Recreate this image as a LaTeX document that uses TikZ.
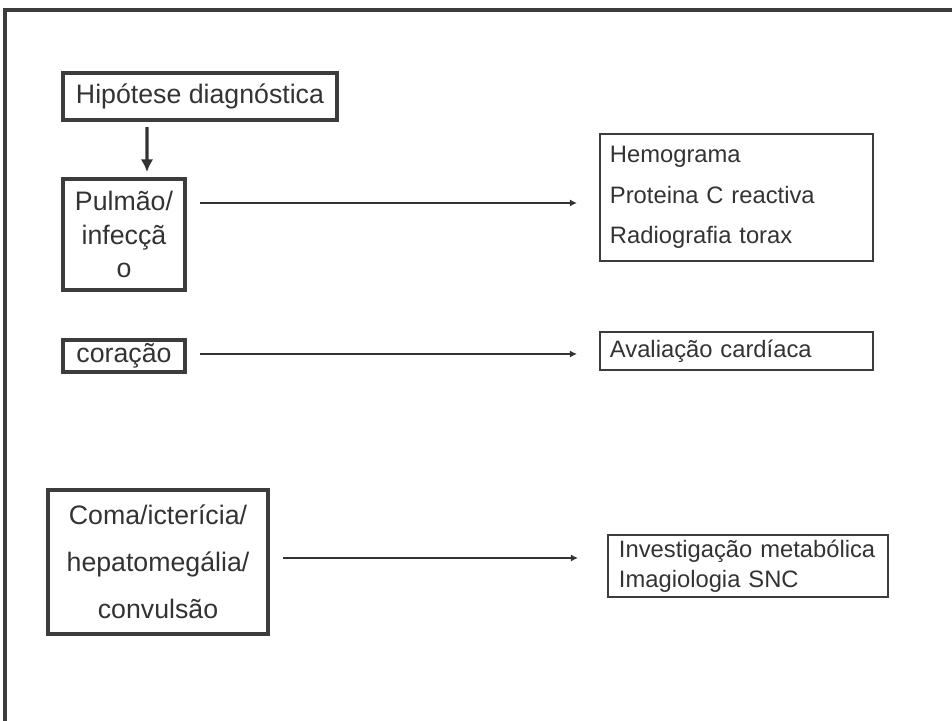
\documentclass[tikz,border=0pt]{standalone}
\usepackage{fontspec}
\setmainfont{Liberation Sans}
\usepackage{tikz}
\usetikzlibrary{calc}
\usetikzlibrary{positioning}
\usetikzlibrary{arrows.meta}
\definecolor{framegray}{HTML}{3C3C3C}
\definecolor{inkgray}{HTML}{333333}
\tikzstyle{causebox} = [draw=framegray, line width=2.3pt, text=inkgray, inner sep=0pt, outer sep=0pt, align=center, font=\fontsize{19}{24}\selectfont]
\tikzstyle{testbox} = [draw=framegray, line width=0.8pt, text=inkgray, inner xsep=0.25cm, inner ysep=0pt, outer sep=0pt, align=left, font=\fontsize{16.9}{29}\selectfont]
\tikzstyle{link} = [draw=inkgray, line width=1.1pt, -{Latex[length=5pt,width=5pt]}]

\begin{document}
\begin{tikzpicture}[x=0.025cm, y=-0.025cm]
\useasboundingbox (0,0) rectangle (952,721);
\draw[framegray, line width=2.3pt] (952,10) -- (5,10) -- (5,721);

\node[causebox, minimum width=6.85cm, minimum height=1.175cm] (hyp) at (200,96.5) {Hipótese diagnóstica};
\node[causebox, minimum width=3.05cm, minimum height=2.775cm] (pulm) at ($(hyp)+(-76,138)$) {Pulmão/\\infecçã\\o};
\node[causebox, minimum width=3.05cm, minimum height=0.8cm] (heart) at ($(pulm)+(0,121.5)$) {coração};
\node[causebox, minimum width=5.5cm, minimum height=3.6cm, font=\fontsize{19}{33.6}\selectfont] (coma) at ($(heart)+(34,206)$) {Coma/icterícia/\\hepatomegália/\\convulsão};

\node[testbox, text width=6.325cm, minimum height=3.175cm] (lab) at ($(pulm)+(612.5,-37)$) {Hemograma\\Proteina C reactiva\\Radiografia torax};
\node[testbox, text width=6.325cm, minimum height=0.95cm] (card) at ($(heart)+(612.5,-5)$) {Avaliação cardíaca};
\node[testbox, inner xsep=0.275cm, text width=6.45cm, minimum height=1.55cm] (meta) at ($(coma)+(590,4)$) {Investigação metabólica\\[-8pt]Imagiologia SNC};

\draw[draw=inkgray, line width=2.3pt, -{Latex[length=9pt,width=9pt]}] ($(hyp.south west)+(84,7)$) -- ($(pulm.north west)+(84,-7)$);
\draw[link, shorten >=0.575cm] ($(pulm.north east)+(15,24)$) coordinate (p1) -- (p1 -| lab.west);
\draw[link, shorten <=0.375cm, shorten >=0.575cm] ($(heart.east)+(0,-2)$) coordinate (h1) -- (h1 -| card.west);
\draw[link, shorten <=0.375cm, shorten >=0.75cm] ($(coma.east)+(0,-4)$) coordinate (c1) -- (c1 -| meta.west);
\end{tikzpicture}
\end{document}
